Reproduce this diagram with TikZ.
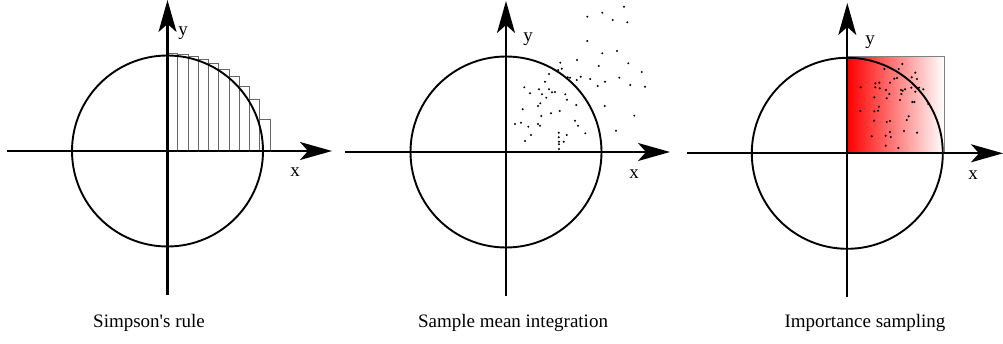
\documentclass[tikz,border=0pt]{standalone}
\usepackage{fontspec}
\setmainfont{Liberation Serif}
\usetikzlibrary{arrows.meta}

\begin{document}
\begin{tikzpicture}[x=1pt, y=1pt,
    axisline/.style={line width=2.1pt, -{Stealth[length=32pt, width=18pt, inset=8pt]}},
    ring/.style={line width=1.9pt},
    bar/.style={draw=black!60, line width=1pt},
    dot/.style={fill=black},
    lab/.style={font=\fontsize{19}{22}\selectfont, inner sep=0pt},
    caption/.style={font=\fontsize{19}{22}\selectfont, inner sep=0pt}]
    \useasboundingbox (0,0) rectangle (1003,343);

    % Simpson's rule
    \begin{scope}[shift={(167.5,192)}]
        \coordinate (o1) at (0,0);
        \coordinate (w1) at (-160.5,0);
        \coordinate (e1) at (164.5,0);
        \coordinate (s1) at (0,-144);
        \coordinate (n1) at (0,151);
        \foreach \h [count=\i from 0] in {97.7,96,94.3,91,87.7,81,74.3,64.3,51.7,31.7}
            \draw[bar] (\i*10.25,0) rectangle ++(10.25,\h);
        \draw[ring] (o1) circle (95.5);
        \draw[axisline] (w1) -- (e1);
        \draw[axisline] (s1) -- (n1);
        \node[lab] (x1) at (127.5,-21) {x};
        \node[lab] (y1) at (15.5,118) {y};
    \end{scope}

    % Sample mean integration
    \begin{scope}[shift={(506,191)}]
        \coordinate (o2) at (0,0);
        \coordinate (w2) at (-161,0);
        \coordinate (e2) at (164,0);
        \coordinate (s2) at (0,-144);
        \coordinate (n2) at (0,151);
        \draw[ring] (o2) circle (95.5);
        \draw[axisline] (w2) -- (e2);
        \draw[axisline] (s2) -- (n2);
        \foreach \x/\y in {118/145.3, 81.3/135.3, 96.3/139.3, 106.7/132, 121.3/129.7,
            81.3/111, 96.3/98.7, 111/101, 71/92, 92.7/86, 122.3/88.7, 54.3/89.3,
            55.7/83.3, 52.3/82, 43/78, 135.7/80, 61.7/74.7, 64/74.3, 74.7/75.3,
            70.7/72, 84.3/73, 99/70.3, 113.3/74.3, 124.3/67, 139/65.3, 91.7/66,
            18.3/64.7, 39/70.3, 33/62.7, 24/58.7, 36/57.7, 43/62.7, 46/59.7, 49/60,
            40.3/54.3, 59.3/57.7, 61/52.3, 70.3/47, 98.7/46, 16.7/42.7, 34.3/48.7,
            32/46, 53.7/41, 45/38.7, 35.3/36, 128.3/36.3, 9/28, 15/29.3, 22.3/25.3,
            32/28, 34/26.3, 69/31.3, 72/26.3, 25/17, 19/11, 79.3/18.7, 110/21.3,
            60.7/17, 52.7/19.3, 52.7/14.7, 53/10.3, 57.7/10.3, 53/7.7, 53/3}
            \fill[dot] (\x,\y) circle (1.1);
        \node[lab] (x2) at (128,-22) {x};
        \node[lab] (y2) at (22,113) {y};
    \end{scope}

    % Importance sampling
    \begin{scope}[shift={(847.3,189.7)}]
        \coordinate (o3) at (0,0);
        \coordinate (w3) at (-160.3,0);
        \coordinate (e3) at (155.7,0);
        \coordinate (s3) at (0,-143.7);
        \coordinate (n3) at (0,150.3);
        \shadedraw[left color=red, right color=white, draw=black!50, line width=0.8pt]
            (o3) rectangle (96.7,97);
        \draw[ring] (o3) circle (95.5);
        \draw[axisline] (w3) -- (e3);
        \draw[axisline] (s3) -- (n3);
        \foreach \x/\y in {55/89.3, 51.4/84.3, 37/84.3, 68/80.6, 64.4/76, 69.7/74.3,
            49.7/75.3, 47/74.6, 42.7/70.6, 32/70.6, 28/70, 28/66, 32.4/65, 13.4/66,
            38.7/63.3, 42/59.3, 53.7/63.3, 55.4/62.6, 57.7/64, 64/65.6, 71.7/65.6,
            76/64, 68/61.6, 54/59.3, 39.4/55, 27/56, 52.7/53.3, 65/51.3, 67/51.3,
            81/49.3, 31.7/46.6, 30.7/42.6, 27/42, 13/42.3, 61.4/37, 59.4/33.3,
            39.4/31.3, 42.7/32.3, 26.7/32.6, 56.7/22.3, 69.7/20.6, 42.7/21.3,
            24.4/17, 38.4/17.6, 43.4/16.3, 38.4/7.6, 51/5.3}
            \fill[dot] (\x,\y) circle (1.2);
        \node[lab] (x3) at (125.7,-21.7) {x};
        \node[lab] (y3) at (22.7,111.3) {y};
    \end{scope}

    % Captions
    \node[caption] (c1) at (149,20) {Simpson\textquotesingle s rule};
    \node[caption] (c2) at (513,20) {Sample mean integration};
    \node[caption] (c3) at (865,20) {Importance sampling};
\end{tikzpicture}
\end{document}
